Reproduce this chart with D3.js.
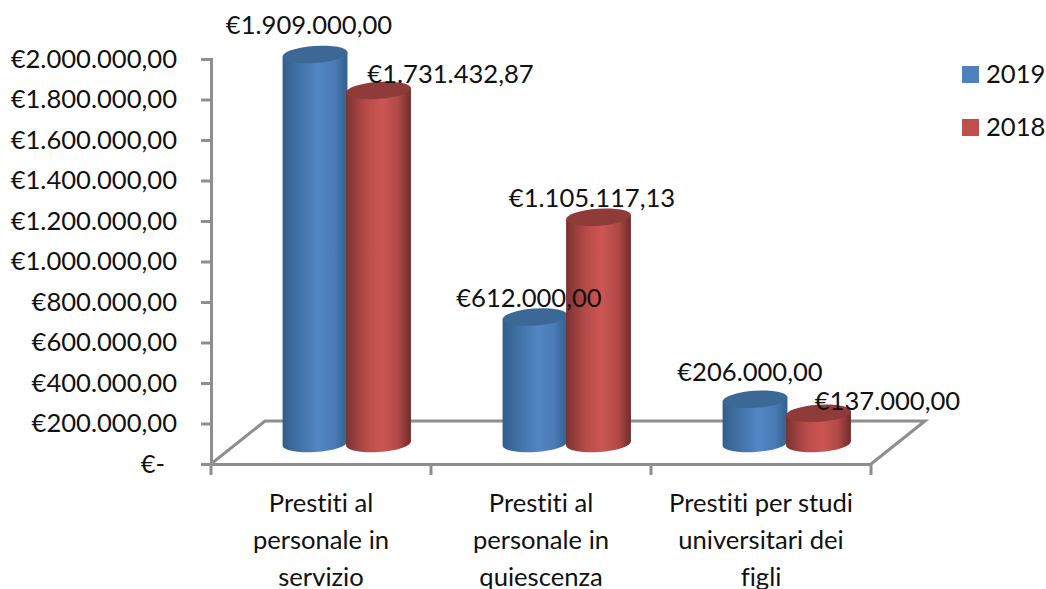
<!DOCTYPE html>
<html>

<head>
    <meta charset="utf-8">
    <title>Prestiti</title>
    <script src="https://cdnjs.cloudflare.com/ajax/libs/d3/7.8.5/d3.min.js"></script>
    <style>
        html, body { margin: 0; padding: 0; background: #fff; }
        svg { display: block; }
        text { font-family: Lato, sans-serif; fill: #111; font-variant-ligatures: none; }
    </style>
</head>

<body>
</body>
<script>
    var categories = ["Prestiti al personale in servizio", "Prestiti al personale in quiescenza", "Prestiti per studi universitari dei figli"];
    var categoryLines = [
        ["Prestiti al", "personale in", "servizio"],
        ["Prestiti al", "personale in", "quiescenza"],
        ["Prestiti per studi", "universitari dei", "figli"]
    ];
    var series = ["2019", "2018"];
    var values2019 = [1909000, 612000, 206000];
    var values2018 = [1731432.87, 1105117.13, 137000];
    var yTicks = [0, 200000, 400000, 600000, 800000, 1000000, 1200000, 1400000, 1600000, 1800000, 2000000];

    var w = 1046, h = 589;
    var axisColor = "#8e8e8e";
    var fontSize = 25.6;
    var depthX = 54, depthY = 43; // floor of the 3d box
    var barW = 65, rx = barW / 2, ry = 8.5, tilt = -4;

    var it = d3.formatLocale({ decimal: ",", thousands: ".", grouping: [3], currency: ["€", ""] });
    var money = it.format("$,.2f");

    var svg = d3.select("body").append("svg").attr("width", w).attr("height", h);

    var x0 = d3.scaleBand().domain(categories).range([211, 871]);
    var x1 = d3.scaleBand().domain(series).range([0, 127]);
    var y = d3.scaleLinear().domain([0, 2000000]).range([464, 59]);

    // gradients for the cylinders
    var defs = svg.append("defs");
    var grads = {
        "2019": ["#325e8d", "#4475ab", "#5286c6", "#4a7bb5", "#33608f"],
        "2018": ["#7c3230", "#b54b48", "#cd5653", "#b04a47", "#6e2d2b"]
    };
    var topColor = { "2019": "#3c6896", "2018": "#8e3b39" };
    var swatch = { "2019": "#4f81bd", "2018": "#c0504d" };
    series.forEach(function(s) {
        var g = defs.append("linearGradient").attr("id", "g" + s);
        grads[s].forEach(function(c, i) {
            g.append("stop").attr("offset", [0, 0.3, 0.55, 0.8, 1][i]).attr("stop-color", c);
        });
    });

    // floor
    svg.append("path")
        .attr("d", d3.line()([
            [x0.range()[0], y(0)],
            [x0.range()[0] + depthX, y(0) - depthY],
            [x0.range()[1] + depthX, y(0) - depthY],
            [x0.range()[1], y(0)]
        ]))
        .attr("fill", "none")
        .attr("stroke", axisColor)
        .attr("stroke-width", 3);

    // axes
    var yAxis = d3.axisLeft(y)
        .tickValues(yTicks)
        .tickSize(10)
        .tickPadding(24)
        .tickFormat(function(d) { return d === 0 ? "€-" : money(d); });
    var gy = svg.append("g").attr("transform", "translate(211,0)").call(yAxis);

    var xAxis = d3.axisBottom(x0).tickSize(0).tickFormat("");
    var gx = svg.append("g").attr("transform", "translate(0,464)").call(xAxis);

    gx.selectAll(".sep")
        .data(d3.range(categories.length + 1))
        .enter()
        .append("line")
        .attr("class", "sep")
        .attr("x1", function(i) { return x0.range()[0] + i * x0.step(); })
        .attr("x2", function(i) { return x0.range()[0] + i * x0.step(); })
        .attr("y1", 0)
        .attr("y2", 11);

    svg.selectAll(".domain, .tick line, .sep")
        .attr("stroke", axisColor)
        .attr("stroke-width", 3);
    gy.selectAll("text")
        .attr("font-size", fontSize)
        .attr("font-family", "Lato, sans-serif")
        .attr("dx", function(d) { return d === 0 ? -12 : 0; });

    // category labels, 3 lines each
    gx.selectAll(".tick text").remove();
    gx.selectAll(".tick").each(function(d, i) {
        var t = d3.select(this).append("text")
            .attr("font-size", fontSize)
            .attr("font-family", "Lato, sans-serif")
            .attr("text-anchor", "middle");
        categoryLines[i].forEach(function(l, j) {
            t.append("tspan").attr("x", 0).attr("y", 47.5 + j * 37).text(l);
        });
    });

    // bars
    var rows = [];
    categories.forEach(function(c, i) {
        rows.push({ cat: c, s: "2019", v: values2019[i] });
        rows.push({ cat: c, s: "2018", v: values2018[i] });
    });
    function barX(d) {
        return x0(d.cat) + (x0.bandwidth() - (x1.range()[1])) / 2 + 25 + x1(d.s);
    }
    var floorY = depthY / 2 + 1.5;

    var bars = svg.selectAll(".bar")
        .data(rows)
        .enter()
        .append("g")
        .attr("class", "bar")
        .attr("transform", function(d) { return "translate(" + barX(d) + ",0)"; });

    var a = tilt * Math.PI / 180;
    var dx = rx * Math.cos(a), dy = rx * Math.sin(a);
    bars.append("path")
        .attr("d", function(d) {
            var top = y(d.v) - floorY, bot = y(0) - floorY + 2.5;
            return "M" + (rx - dx) + "," + (top - dy) +
                "L" + (rx - dx) + "," + (bot - dy) +
                "A" + rx + "," + ry + " " + tilt + " 0 0 " + (rx + dx) + "," + (bot + dy) +
                "L" + (rx + dx) + "," + (top + dy) + "Z";
        })
        .attr("fill", function(d) { return "url(#g" + d.s + ")"; });
    bars.append("ellipse")
        .attr("rx", rx)
        .attr("ry", ry)
        .attr("transform", function(d) { return "translate(" + rx + "," + (y(d.v) - floorY) + ") rotate(" + tilt + ")"; })
        .attr("fill", function(d) { return topColor[d.s]; });

    // data labels sit where they were dragged in the original, offset from the bar top
    var labelDx = [-6, 72, -6, -6.5, -5, 69];
    var labelDy = [-20, -7, -10, -10, -18, -3];
    svg.selectAll(".val")
        .data(rows)
        .enter()
        .append("text")
        .attr("class", "val")
        .attr("font-size", fontSize)
        .attr("text-anchor", "middle")
        .attr("x", function(d, i) { return barX(d) + rx + labelDx[i]; })
        .attr("y", function(d, i) { return y(d.v) - floorY + labelDy[i]; })
        .text(function(d) { return money(d.v); });

    // legend
    var legend = svg.selectAll(".leg")
        .data(series)
        .enter()
        .append("g")
        .attr("class", "leg")
        .attr("transform", function(d, i) { return "translate(962," + (66 + i * 53) + ")"; });
    legend.append("rect")
        .attr("width", 17)
        .attr("height", 17)
        .attr("fill", function(d) { return swatch[d]; });
    legend.append("text")
        .attr("x", 24)
        .attr("y", 17)
        .attr("font-size", fontSize)
        .text(function(d) { return d; });
</script>

</html>
